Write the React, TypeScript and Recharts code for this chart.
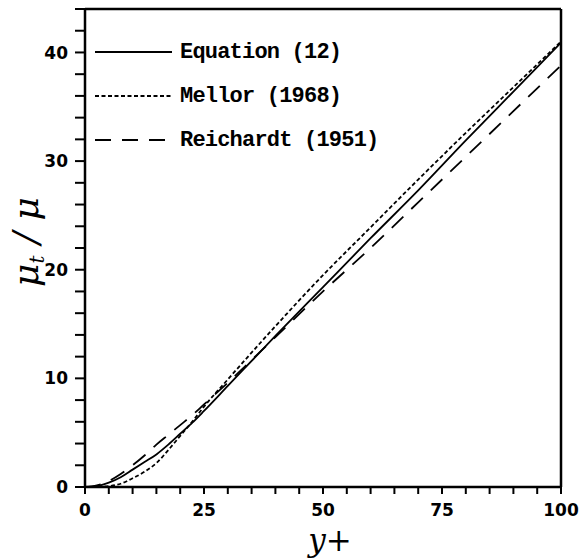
import { LineChart, Line, XAxis, YAxis, Legend, ReferenceLine, Label } from 'recharts';

// values
const yPlus = [0, 2.5, 5, 7.5, 10, 12.5, 15, 17.5, 20, 22.5, 25, 30, 40, 50, 60, 70, 80, 90, 100];
const equation12 = [0, 0.08, 0.4, 0.9, 1.6, 2.3, 3.0, 3.9, 4.9, 5.9, 7.0, 9.3, 13.9, 18.4, 22.9, 27.3, 31.9, 36.4, 40.9];
const mellor1968 = [0, 0.02, 0.08, 0.3, 0.8, 1.4, 2.2, 3.4, 4.7, 6.0, 7.4, 9.9, 14.8, 19.5, 23.9, 28.3, 32.6, 36.8, 41.0];
const reichardt1951 = [0, 0.15, 0.55, 1.2, 2.0, 2.9, 3.9, 4.8, 5.7, 6.6, 7.6, 9.6, 13.8, 18.0, 22.0, 26.2, 30.4, 34.6, 38.8];

const xTicks = [0, 5, 10, 15, 20, 25, 30, 35, 40, 45, 50, 55, 60, 65, 70, 75, 80, 85, 90, 95, 100];
const xLabeled = [0, 25, 50, 75, 100];
const yTicks = [0, 2, 4, 6, 8, 10, 12, 14, 16, 18, 20, 22, 24, 26, 28, 30, 32, 34, 36, 38, 40, 42, 44];
const yLabeled = [0, 10, 20, 30, 40];

const seriesNames = ['Equation (12)', 'Mellor (1968)', 'Reichardt (1951)'];

const data = yPlus.map((y, i) => ({
  y,
  eq: equation12[i],
  mellor: mellor1968[i],
  reichardt: reichardt1951[i],
}));

const tickFont = { fontFamily: 'DejaVu Sans', fontWeight: 'bold' as const, fontSize: 17, fill: '#000' };

function XTick(props: any) {
  const { x, y, payload } = props;
  if (!xLabeled.includes(payload.value)) return null;
  return (
    <text x={x} y={y} dy="0.71em" textAnchor="middle" {...tickFont}>
      {payload.value}
    </text>
  );
}

function YTick(props: any) {
  const { x, y, payload } = props;
  if (!yLabeled.includes(payload.value)) return null;
  return (
    <text x={x} y={y} dy="0.36em" textAnchor="end" {...tickFont}>
      {payload.value}
    </text>
  );
}

const mellorDash = '4 2.5';
const reichardtDash = '16 11';
const legendDashes = [undefined, mellorDash, reichardtDash];

function LegendBox() {
  return (
    <div>
      {seriesNames.map((name, i) => (
        <div key={name} style={{ display: 'flex', alignItems: 'center', height: 44 }}>
          <svg width={77} height={6} style={{ display: 'block' }}>
            <line x1={0} y1={3} x2={77} y2={3} stroke="#000" strokeWidth={1.8} strokeDasharray={legendDashes[i]} />
          </svg>
          <span
            style={{
              marginLeft: 8,
              fontFamily: 'Liberation Mono',
              fontWeight: 'bold',
              fontSize: 22,
              letterSpacing: -0.8,
              color: '#000',
              whiteSpace: 'nowrap',
            }}
          >
            {name}
          </span>
        </div>
      ))}
    </div>
  );
}

export default function App() {
  return (
    <div style={{ position: 'absolute', left: 0, top: 0, background: '#fff' }}>
      <LineChart width={581} height={559} data={data} margin={{ top: 9, right: 20, bottom: 0, left: 0 }}>
        <XAxis
          dataKey="y"
          type="number"
          domain={[0, 100]}
          ticks={xTicks}
          interval={0}
          height={72}
          tickSize={7}
          tickMargin={10}
          tick={<XTick />}
          axisLine={{ stroke: '#000', strokeWidth: 2.5 }}
          tickLine={{ stroke: '#000', strokeWidth: 2 }}
        >
          <Label
            content={(p: any) => {
              const vb = p.viewBox;
              return (
                <text
                  x={vb.x + vb.width / 2 + 7}
                  y={551}
                  textAnchor="middle"
                  fontFamily="DejaVu Serif"
                  fontStyle="italic"
                  fontSize={31}
                  fill="#000"
                >
                  y+
                </text>
              );
            }}
          />
        </XAxis>
        <YAxis
          type="number"
          domain={[0, 44]}
          ticks={yTicks}
          interval={0}
          width={85}
          tickSize={10}
          tickMargin={7}
          tick={<YTick />}
          axisLine={{ stroke: '#000', strokeWidth: 2.5 }}
          tickLine={{ stroke: '#000', strokeWidth: 2 }}
        >
          <Label
            content={(p: any) => {
              const vb = p.viewBox;
              const cy = vb.y + vb.height / 2 - 6;
              return (
                <text
                  x={38}
                  y={cy}
                  transform={`rotate(-90, 38, ${cy})`}
                  textAnchor="middle"
                  fontFamily="DejaVu Serif"
                  fontStyle="italic"
                  fontSize={36}
                  fill="#000"
                >
                  μ<tspan fontSize={20} dy={6}>t</tspan>
                  <tspan dy={-6}> / μ</tspan>
                </text>
              );
            }}
          />
        </YAxis>
        <ReferenceLine y={44} stroke="#000" strokeWidth={2.5} ifOverflow="visible" />
        <ReferenceLine x={100} stroke="#000" strokeWidth={2.5} ifOverflow="visible" />
        <Legend
          layout="vertical"
          align="center"
          verticalAlign="middle"
          content={<LegendBox />}
          wrapperStyle={{ position: 'absolute', left: 95, top: 30, width: 'auto' }}
        />
        <Line dataKey="eq" name={seriesNames[0]} type="monotone" stroke="#000" strokeWidth={1.8} dot={false} isAnimationActive={false} />
        <Line dataKey="mellor" name={seriesNames[1]} type="monotone" stroke="#000" strokeWidth={1.8} strokeDasharray={mellorDash} dot={false} isAnimationActive={false} />
        <Line dataKey="reichardt" name={seriesNames[2]} type="monotone" stroke="#000" strokeWidth={1.8} strokeDasharray={reichardtDash} dot={false} isAnimationActive={false} />
      </LineChart>
    </div>
  );
}
